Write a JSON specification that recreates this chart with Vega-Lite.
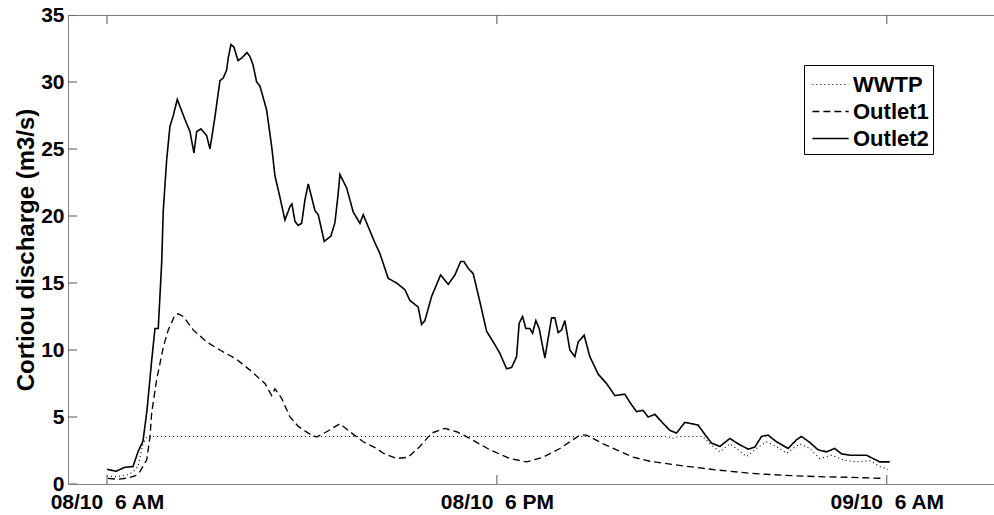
{
  "$schema": "https://vega.github.io/schema/vega-lite/v6.json",
  "width": 926,
  "height": 469,
  "autosize": {"type": "none"},
  "padding": {"left": 68, "top": 15, "right": 0, "bottom": 31},
  "background": "white",
  "config": {"view": {"stroke": null}, "font": "Liberation Sans"},
  "datasets": {
    "series": [
      {"series": "Outlet2", "t": 0, "v": 1.1},
      {"series": "Outlet2", "t": 0.277, "v": 0.95},
      {"series": "Outlet2", "t": 0.554, "v": 1.25},
      {"series": "Outlet2", "t": 0.8, "v": 1.3},
      {"series": "Outlet2", "t": 0.954, "v": 2.4},
      {"series": "Outlet2", "t": 1.108, "v": 3.2},
      {"series": "Outlet2", "t": 1.231, "v": 5.5},
      {"series": "Outlet2", "t": 1.375, "v": 9.2},
      {"series": "Outlet2", "t": 1.477, "v": 11.6},
      {"series": "Outlet2", "t": 1.578, "v": 11.6},
      {"series": "Outlet2", "t": 1.683, "v": 16.5},
      {"series": "Outlet2", "t": 1.732, "v": 20.4},
      {"series": "Outlet2", "t": 1.837, "v": 24.2},
      {"series": "Outlet2", "t": 1.938, "v": 26.7},
      {"series": "Outlet2", "t": 2.04, "v": 27.5},
      {"series": "Outlet2", "t": 2.163, "v": 28.7},
      {"series": "Outlet2", "t": 2.4, "v": 27.2},
      {"series": "Outlet2", "t": 2.554, "v": 26.3},
      {"series": "Outlet2", "t": 2.677, "v": 24.7},
      {"series": "Outlet2", "t": 2.76, "v": 26.3},
      {"series": "Outlet2", "t": 2.892, "v": 26.5},
      {"series": "Outlet2", "t": 3.068, "v": 26.0},
      {"series": "Outlet2", "t": 3.169, "v": 25.0},
      {"series": "Outlet2", "t": 3.323, "v": 27.4},
      {"series": "Outlet2", "t": 3.425, "v": 29.2},
      {"series": "Outlet2", "t": 3.477, "v": 30.1},
      {"series": "Outlet2", "t": 3.578, "v": 30.3},
      {"series": "Outlet2", "t": 3.683, "v": 30.9},
      {"series": "Outlet2", "t": 3.732, "v": 31.8},
      {"series": "Outlet2", "t": 3.815, "v": 32.8},
      {"series": "Outlet2", "t": 3.908, "v": 32.6},
      {"series": "Outlet2", "t": 4.031, "v": 31.6},
      {"series": "Outlet2", "t": 4.154, "v": 31.8},
      {"series": "Outlet2", "t": 4.308, "v": 32.2},
      {"series": "Outlet2", "t": 4.4, "v": 31.9},
      {"series": "Outlet2", "t": 4.492, "v": 31.3},
      {"series": "Outlet2", "t": 4.606, "v": 30.0},
      {"series": "Outlet2", "t": 4.708, "v": 29.7},
      {"series": "Outlet2", "t": 4.914, "v": 27.9},
      {"series": "Outlet2", "t": 5.068, "v": 25.2},
      {"series": "Outlet2", "t": 5.169, "v": 23.0},
      {"series": "Outlet2", "t": 5.323, "v": 21.4},
      {"series": "Outlet2", "t": 5.477, "v": 19.7},
      {"series": "Outlet2", "t": 5.631, "v": 20.7},
      {"series": "Outlet2", "t": 5.692, "v": 20.9},
      {"series": "Outlet2", "t": 5.785, "v": 19.6},
      {"series": "Outlet2", "t": 5.886, "v": 19.3},
      {"series": "Outlet2", "t": 5.991, "v": 19.45},
      {"series": "Outlet2", "t": 6.092, "v": 21.2},
      {"series": "Outlet2", "t": 6.194, "v": 22.4},
      {"series": "Outlet2", "t": 6.298, "v": 21.4},
      {"series": "Outlet2", "t": 6.4, "v": 20.4},
      {"series": "Outlet2", "t": 6.502, "v": 20.1},
      {"series": "Outlet2", "t": 6.686, "v": 18.1},
      {"series": "Outlet2", "t": 6.892, "v": 18.5},
      {"series": "Outlet2", "t": 7.015, "v": 19.5},
      {"series": "Outlet2", "t": 7.117, "v": 21.7},
      {"series": "Outlet2", "t": 7.169, "v": 23.1},
      {"series": "Outlet2", "t": 7.375, "v": 22.1},
      {"series": "Outlet2", "t": 7.477, "v": 21.2},
      {"series": "Outlet2", "t": 7.578, "v": 20.3},
      {"series": "Outlet2", "t": 7.785, "v": 19.45},
      {"series": "Outlet2", "t": 7.886, "v": 20.1},
      {"series": "Outlet2", "t": 8.04, "v": 19.2},
      {"series": "Outlet2", "t": 8.246, "v": 18.0},
      {"series": "Outlet2", "t": 8.4, "v": 17.2},
      {"series": "Outlet2", "t": 8.655, "v": 15.35},
      {"series": "Outlet2", "t": 8.914, "v": 15.0},
      {"series": "Outlet2", "t": 9.169, "v": 14.5},
      {"series": "Outlet2", "t": 9.323, "v": 13.7},
      {"series": "Outlet2", "t": 9.578, "v": 13.2},
      {"series": "Outlet2", "t": 9.683, "v": 11.9},
      {"series": "Outlet2", "t": 9.785, "v": 12.2},
      {"series": "Outlet2", "t": 9.991, "v": 14.0},
      {"series": "Outlet2", "t": 10.268, "v": 15.6},
      {"series": "Outlet2", "t": 10.502, "v": 14.9},
      {"series": "Outlet2", "t": 10.708, "v": 15.6},
      {"series": "Outlet2", "t": 10.883, "v": 16.6},
      {"series": "Outlet2", "t": 10.985, "v": 16.6},
      {"series": "Outlet2", "t": 11.117, "v": 16.1},
      {"series": "Outlet2", "t": 11.271, "v": 15.7},
      {"series": "Outlet2", "t": 11.477, "v": 13.6},
      {"series": "Outlet2", "t": 11.683, "v": 11.4},
      {"series": "Outlet2", "t": 11.938, "v": 10.4},
      {"series": "Outlet2", "t": 12.092, "v": 9.75},
      {"series": "Outlet2", "t": 12.298, "v": 8.6},
      {"series": "Outlet2", "t": 12.452, "v": 8.7},
      {"series": "Outlet2", "t": 12.606, "v": 9.5},
      {"series": "Outlet2", "t": 12.686, "v": 12.0},
      {"series": "Outlet2", "t": 12.791, "v": 12.5},
      {"series": "Outlet2", "t": 12.892, "v": 11.6},
      {"series": "Outlet2", "t": 13.015, "v": 11.6},
      {"series": "Outlet2", "t": 13.098, "v": 11.25},
      {"series": "Outlet2", "t": 13.2, "v": 12.2},
      {"series": "Outlet2", "t": 13.302, "v": 11.6},
      {"series": "Outlet2", "t": 13.477, "v": 9.4},
      {"series": "Outlet2", "t": 13.683, "v": 12.4},
      {"series": "Outlet2", "t": 13.785, "v": 12.4},
      {"series": "Outlet2", "t": 13.886, "v": 11.3},
      {"series": "Outlet2", "t": 13.991, "v": 11.5},
      {"series": "Outlet2", "t": 14.092, "v": 12.2},
      {"series": "Outlet2", "t": 14.246, "v": 10.0},
      {"series": "Outlet2", "t": 14.4, "v": 9.5},
      {"series": "Outlet2", "t": 14.502, "v": 10.6},
      {"series": "Outlet2", "t": 14.686, "v": 11.1},
      {"series": "Outlet2", "t": 14.862, "v": 9.5},
      {"series": "Outlet2", "t": 15.117, "v": 8.2},
      {"series": "Outlet2", "t": 15.375, "v": 7.5},
      {"series": "Outlet2", "t": 15.631, "v": 6.6},
      {"series": "Outlet2", "t": 15.938, "v": 6.7},
      {"series": "Outlet2", "t": 16.092, "v": 6.1},
      {"series": "Outlet2", "t": 16.298, "v": 5.4},
      {"series": "Outlet2", "t": 16.498, "v": 5.5},
      {"series": "Outlet2", "t": 16.655, "v": 5.0},
      {"series": "Outlet2", "t": 16.862, "v": 5.2},
      {"series": "Outlet2", "t": 17.068, "v": 4.65},
      {"series": "Outlet2", "t": 17.323, "v": 4.0},
      {"series": "Outlet2", "t": 17.529, "v": 3.8},
      {"series": "Outlet2", "t": 17.785, "v": 4.6},
      {"series": "Outlet2", "t": 17.991, "v": 4.5},
      {"series": "Outlet2", "t": 18.194, "v": 4.4},
      {"series": "Outlet2", "t": 18.4, "v": 3.7},
      {"series": "Outlet2", "t": 18.606, "v": 3.05},
      {"series": "Outlet2", "t": 18.862, "v": 2.8},
      {"series": "Outlet2", "t": 19.169, "v": 3.4},
      {"series": "Outlet2", "t": 19.425, "v": 3.0},
      {"series": "Outlet2", "t": 19.732, "v": 2.6},
      {"series": "Outlet2", "t": 19.938, "v": 2.75},
      {"series": "Outlet2", "t": 20.145, "v": 3.55},
      {"series": "Outlet2", "t": 20.348, "v": 3.65},
      {"series": "Outlet2", "t": 20.606, "v": 3.15},
      {"series": "Outlet2", "t": 20.963, "v": 2.65},
      {"series": "Outlet2", "t": 21.221, "v": 3.3},
      {"series": "Outlet2", "t": 21.375, "v": 3.55},
      {"series": "Outlet2", "t": 21.631, "v": 3.1},
      {"series": "Outlet2", "t": 21.886, "v": 2.55},
      {"series": "Outlet2", "t": 22.145, "v": 2.4},
      {"series": "Outlet2", "t": 22.4, "v": 2.65},
      {"series": "Outlet2", "t": 22.606, "v": 2.25},
      {"series": "Outlet2", "t": 22.862, "v": 2.15},
      {"series": "Outlet2", "t": 23.375, "v": 2.15},
      {"series": "Outlet2", "t": 23.578, "v": 1.9},
      {"series": "Outlet2", "t": 23.785, "v": 1.65},
      {"series": "Outlet2", "t": 24.092, "v": 1.65},

      {"series": "Outlet1", "t": 0.031, "v": 0.42},
      {"series": "Outlet1", "t": 0.338, "v": 0.35},
      {"series": "Outlet1", "t": 0.646, "v": 0.45},
      {"series": "Outlet1", "t": 0.862, "v": 0.6},
      {"series": "Outlet1", "t": 1.015, "v": 0.92},
      {"series": "Outlet1", "t": 1.222, "v": 1.8},
      {"series": "Outlet1", "t": 1.323, "v": 3.5},
      {"series": "Outlet1", "t": 1.375, "v": 5.3},
      {"series": "Outlet1", "t": 1.529, "v": 7.8},
      {"series": "Outlet1", "t": 1.732, "v": 10.2},
      {"series": "Outlet1", "t": 1.886, "v": 11.5},
      {"series": "Outlet1", "t": 2.092, "v": 12.6},
      {"series": "Outlet1", "t": 2.194, "v": 12.7},
      {"series": "Outlet1", "t": 2.348, "v": 12.5},
      {"series": "Outlet1", "t": 2.655, "v": 11.5},
      {"series": "Outlet1", "t": 3.068, "v": 10.6},
      {"series": "Outlet1", "t": 3.477, "v": 10.0},
      {"series": "Outlet1", "t": 3.991, "v": 9.3},
      {"series": "Outlet1", "t": 4.4, "v": 8.5},
      {"series": "Outlet1", "t": 4.862, "v": 7.5},
      {"series": "Outlet1", "t": 5.068, "v": 6.6},
      {"series": "Outlet1", "t": 5.169, "v": 7.1},
      {"series": "Outlet1", "t": 5.375, "v": 6.4},
      {"series": "Outlet1", "t": 5.631, "v": 5.0},
      {"series": "Outlet1", "t": 5.886, "v": 4.3},
      {"series": "Outlet1", "t": 6.194, "v": 3.8},
      {"series": "Outlet1", "t": 6.452, "v": 3.5},
      {"series": "Outlet1", "t": 6.76, "v": 3.9},
      {"series": "Outlet1", "t": 7.169, "v": 4.5},
      {"series": "Outlet1", "t": 7.477, "v": 3.9},
      {"series": "Outlet1", "t": 7.886, "v": 3.15},
      {"series": "Outlet1", "t": 8.298, "v": 2.65},
      {"series": "Outlet1", "t": 8.502, "v": 2.3},
      {"series": "Outlet1", "t": 8.914, "v": 1.9},
      {"series": "Outlet1", "t": 9.271, "v": 2.0},
      {"series": "Outlet1", "t": 9.631, "v": 2.8},
      {"series": "Outlet1", "t": 9.991, "v": 3.8},
      {"series": "Outlet1", "t": 10.4, "v": 4.15},
      {"series": "Outlet1", "t": 10.76, "v": 3.9},
      {"series": "Outlet1", "t": 11.169, "v": 3.4},
      {"series": "Outlet1", "t": 11.785, "v": 2.55},
      {"series": "Outlet1", "t": 12.4, "v": 1.9},
      {"series": "Outlet1", "t": 12.914, "v": 1.65},
      {"series": "Outlet1", "t": 13.425, "v": 2.0},
      {"series": "Outlet1", "t": 13.938, "v": 2.65},
      {"series": "Outlet1", "t": 14.246, "v": 3.15},
      {"series": "Outlet1", "t": 14.554, "v": 3.65},
      {"series": "Outlet1", "t": 14.76, "v": 3.65},
      {"series": "Outlet1", "t": 15.271, "v": 3.0},
      {"series": "Outlet1", "t": 15.683, "v": 2.55},
      {"series": "Outlet1", "t": 16.194, "v": 2.0},
      {"series": "Outlet1", "t": 16.708, "v": 1.7},
      {"series": "Outlet1", "t": 17.732, "v": 1.35},
      {"series": "Outlet1", "t": 18.76, "v": 1.05},
      {"series": "Outlet1", "t": 19.785, "v": 0.8},
      {"series": "Outlet1", "t": 20.809, "v": 0.65},
      {"series": "Outlet1", "t": 21.837, "v": 0.55},
      {"series": "Outlet1", "t": 22.862, "v": 0.5},
      {"series": "Outlet1", "t": 23.886, "v": 0.42},

      {"series": "WWTP", "t": 0, "v": 0.6},
      {"series": "WWTP", "t": 0.277, "v": 0.55},
      {"series": "WWTP", "t": 0.646, "v": 0.7},
      {"series": "WWTP", "t": 0.8, "v": 0.9},
      {"series": "WWTP", "t": 0.954, "v": 1.3},
      {"series": "WWTP", "t": 1.108, "v": 3.0},
      {"series": "WWTP", "t": 1.231, "v": 3.55},
      {"series": "WWTP", "t": 17.262, "v": 3.55},
      {"series": "WWTP", "t": 17.385, "v": 3.4},
      {"series": "WWTP", "t": 17.631, "v": 3.55},
      {"series": "WWTP", "t": 18.338, "v": 3.55},
      {"series": "WWTP", "t": 18.554, "v": 3.0},
      {"series": "WWTP", "t": 18.862, "v": 2.4},
      {"series": "WWTP", "t": 19.169, "v": 3.0},
      {"series": "WWTP", "t": 19.425, "v": 2.55},
      {"series": "WWTP", "t": 19.683, "v": 2.05},
      {"series": "WWTP", "t": 19.991, "v": 2.65},
      {"series": "WWTP", "t": 20.298, "v": 3.15},
      {"series": "WWTP", "t": 20.606, "v": 2.8},
      {"series": "WWTP", "t": 20.914, "v": 2.3},
      {"series": "WWTP", "t": 21.323, "v": 3.0},
      {"series": "WWTP", "t": 21.631, "v": 2.65},
      {"series": "WWTP", "t": 21.938, "v": 1.9},
      {"series": "WWTP", "t": 22.298, "v": 2.15},
      {"series": "WWTP", "t": 22.655, "v": 1.8},
      {"series": "WWTP", "t": 23.06, "v": 1.65},
      {"series": "WWTP", "t": 23.471, "v": 1.75},
      {"series": "WWTP", "t": 23.785, "v": 1.3},
      {"series": "WWTP", "t": 24.04, "v": 1.1}
    ],
    "yticks": [{"v": 0}, {"v": 5}, {"v": 10}, {"v": 15}, {"v": 20}, {"v": 25}, {"v": 30}, {"v": 35}],
    "xticks": [{"t": 0}, {"t": 12}, {"t": 24}]
  },
  "layer": [
    {
      "data": {"name": "series"},
      "mark": {"type": "line", "color": "black", "clip": true},
      "encoding": {
        "x": {
          "field": "t", "type": "quantitative",
          "scale": {"domain": [-1.2, 27.3], "nice": false, "zero": false},
          "axis": {
            "orient": "bottom", "title": null, "values": [0, 12, 24],
            "labelExpr": "datum.value == 0 ? '08/10\u00a0 6 AM' : datum.value == 12 ? '08/10\u00a0 6 PM' : '09/10\u00a0 6 AM'",
            "labelFont": "Liberation Sans", "labelFontSize": 21, "labelFontWeight": "bold", "labelColor": "black",
            "labelPadding": 7, "ticks": false, "tickSize": 0, "domainColor": "#808080", "grid": false, "labelFlush": false, "labelOverlap": false
          }
        },
        "y": {
          "field": "v", "type": "quantitative",
          "scale": {"domain": [0, 35], "nice": false},
          "axis": {
            "title": "Cortiou discharge (m3/s)", "values": [0, 5, 10, 15, 20, 25, 30, 35],
            "labelFont": "Liberation Sans", "labelFontSize": 21, "labelFontWeight": "bold", "labelColor": "black",
            "titleFont": "Liberation Sans", "titleFontSize": 24, "titleFontWeight": "bold", "titleColor": "black",
            "titlePadding": 2, "labelPadding": 4, "ticks": false, "tickSize": 0, "domainColor": "#808080", "grid": false, "labelFlush": false, "labelOverlap": false
          }
        },
        "strokeDash": {
          "field": "series", "type": "nominal",
          "scale": {"domain": ["WWTP", "Outlet1", "Outlet2"], "range": [[1, 3], [7, 4], [1, 0]]},
          "legend": {
            "orient": "none", "legendX": 736, "legendY": 50, "title": null,
            "strokeColor": "black", "fillColor": "white", "padding": 4, "cornerRadius": 0,
            "labelFont": "Liberation Sans", "labelFontSize": 22, "labelFontWeight": "bold", "labelColor": "black",
            "symbolType": "M-1.25,0H1.25", "symbolSize": 841, "symbolStrokeWidth": 1.4, "symbolStrokeColor": "black", "symbolFillColor": "transparent",
            "symbolOffset": 7, "rowPadding": 0, "labelOffset": 7
          }
        },
        "strokeWidth": {
          "field": "series", "type": "nominal",
          "scale": {"domain": ["WWTP", "Outlet1", "Outlet2"], "range": [1.1, 1.6, 1.6]},
          "legend": null
        }
      }
    },
    {
      "data": {"values": [{"t": 0, "v": 0}]},
      "mark": {"type": "point", "opacity": 0},
      "encoding": {
        "x": {
          "field": "t", "type": "quantitative",
          "scale": {"domain": [-1.2, 27.3], "nice": false, "zero": false},
          "axis": {"orient": "top", "title": null, "values": [0, 12, 24], "labels": false, "ticks": false, "domainColor": "#808080", "grid": false}
        },
        "y": {"field": "v", "type": "quantitative", "scale": {"domain": [0, 35], "nice": false}, "axis": null}
      }
    },
    {
      "data": {"name": "yticks"},
      "mark": {"type": "tick", "orient": "horizontal", "clip": true, "color": "#555555", "thickness": 1, "size": 18, "opacity": 1},
      "encoding": {
        "y": {"field": "v", "type": "quantitative", "axis": null},
        "x": {"datum": -1.2, "type": "quantitative", "axis": null}
      }
    },
    {
      "data": {"name": "xticks"},
      "mark": {"type": "tick", "orient": "vertical", "clip": true, "color": "#555555", "thickness": 1, "size": 18, "opacity": 1},
      "encoding": {
        "x": {"field": "t", "type": "quantitative", "axis": null},
        "y": {"datum": 0, "type": "quantitative", "axis": null}
      }
    },
    {
      "data": {"name": "xticks"},
      "mark": {"type": "tick", "orient": "vertical", "clip": true, "color": "#555555", "thickness": 1, "size": 18, "opacity": 1},
      "encoding": {
        "x": {"field": "t", "type": "quantitative", "axis": null},
        "y": {"datum": 35, "type": "quantitative", "axis": null}
      }
    }
  ],
  "resolve": {"axis": {"x": "independent", "y": "independent"}}
}
